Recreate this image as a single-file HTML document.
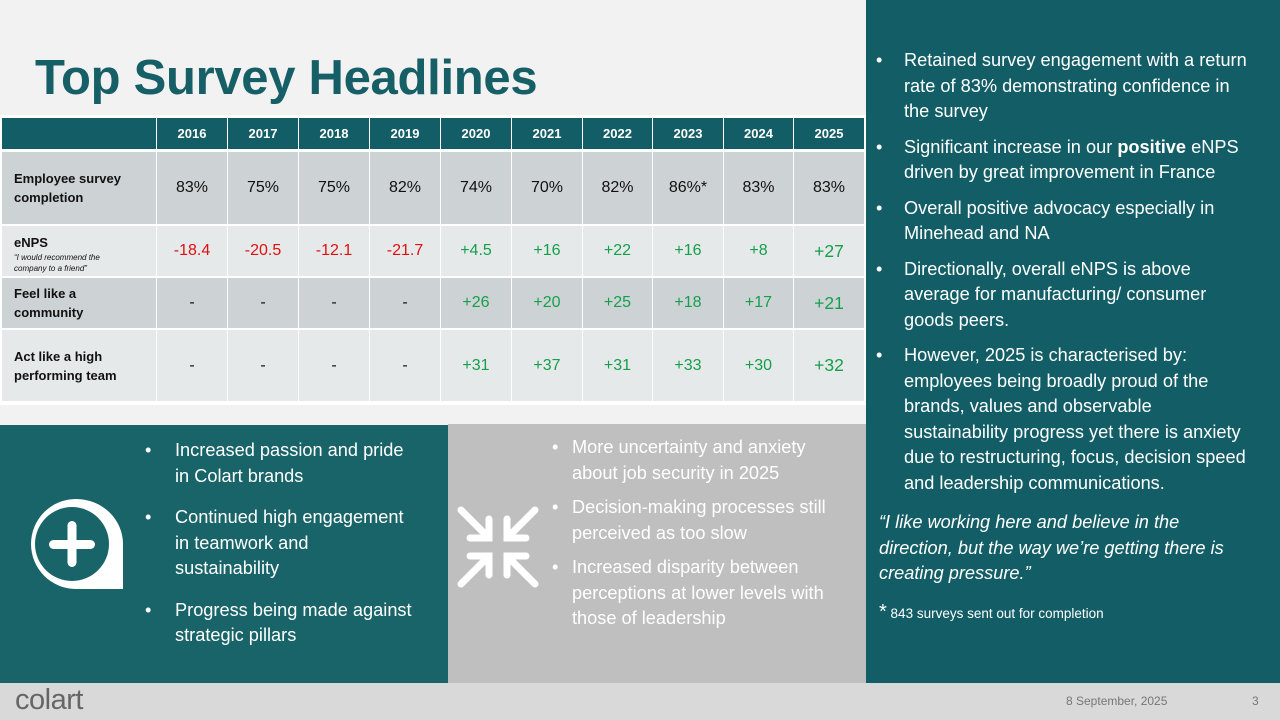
<!DOCTYPE html>
<html><head><meta charset="utf-8"><style>
*{margin:0;padding:0;box-sizing:border-box}
body{width:1280px;height:720px;position:relative;background:#f2f2f2;font-family:"Liberation Sans",Calibri,sans-serif;overflow:hidden}
.a{position:absolute}
h1{position:absolute;left:35px;top:50px;font-size:49px;color:#175f66;font-weight:bold;letter-spacing:-0.3px}
.c{position:absolute;display:flex;align-items:center;justify-content:center;font-size:16px;color:#111}
.h{background:#135e66;color:#fff;font-weight:bold;font-size:13px}
.d{background:#cdd2d5}.l{background:#e6e9ea}
.lab{justify-content:flex-start;padding-left:12px;font-weight:bold;font-size:13px;line-height:19px}
.r{color:#e01010}.g{color:#14a04a}
ul{list-style:none;white-space:nowrap}
li{position:relative;padding-left:30px}
li:before{content:"•";position:absolute;left:0}
</style></head><body>
<h1>Top Survey Headlines</h1>
<div class="a" style="left:0;top:115px;width:866px;height:290px;background:#fff"></div>
<div id="t"></div>
<div class="a" style="left:866px;top:0;width:414px;height:684px;background:#135e66"></div>
<div class="a" style="left:0;top:425px;width:448px;height:258px;background:#186468"></div>
<div class="a" style="left:448px;top:424px;width:418px;height:259px;background:#bfbfbf"></div>
<div class="a" style="left:0;top:683px;width:1280px;height:37px;background:#d9d9d9"></div>
<div class="a" style="left:15px;top:684px;font-size:29px;color:#666;letter-spacing:-0.5px">colart</div>
<div class="a" style="left:1066px;top:694px;font-size:12px;color:#777">8 September, 2025</div>
<div class="a" style="left:1252px;top:694px;font-size:12px;color:#777">3</div>

<svg class="a" style="left:26px;top:496px" width="100" height="94" viewBox="0 0 100 94">
<path d="M50 3 A45 45 0 0 0 50 93 L97 93 L97 48 A47 45 0 0 0 50 3 Z" fill="#fff"/>
<circle cx="46" cy="48" r="37" fill="#186468"/>
<rect x="23" y="44" width="46" height="9" rx="4.5" fill="#fff"/>
<rect x="41.5" y="25" width="9" height="46" rx="4.5" fill="#fff"/>
</svg>
<svg class="a" style="left:456px;top:505px" width="84" height="84" viewBox="0 0 84 84" stroke="#fff" stroke-width="7" stroke-linecap="round" fill="none">
<path d="M5 5 L32 32 M14 33 H33 V14"/>
<path d="M79 5 L52 32 M70 33 H51 V14"/>
<path d="M5 79 L32 52 M14 51 H33 V70"/>
<path d="M79 79 L52 52 M70 51 H51 V70"/>
</svg>

<ul class="a" style="left:145px;top:438px;color:#fff;font-size:18.2px;line-height:25.5px">
<li style="margin-bottom:16px">Increased passion and pride<br>in Colart brands</li>
<li style="margin-bottom:16px">Continued high engagement<br>in teamwork and<br>sustainability</li>
<li>Progress being made against<br>strategic pillars</li>
</ul>
<ul class="a" style="left:552px;top:435px;color:#fff;font-size:18.2px;line-height:25.5px">
<li style="padding-left:20px;margin-bottom:9px">More uncertainty and anxiety<br>about job security in 2025</li>
<li style="padding-left:20px;margin-bottom:9px">Decision-making processes still<br>perceived as too slow</li>
<li style="padding-left:20px">Increased disparity between<br>perceptions at lower levels with<br>those of leadership</li>
</ul>
<ul class="a" style="left:876px;top:48px;color:#fff;font-size:18.2px;line-height:25.5px">
<li style="padding-left:28px;margin-bottom:10px">Retained survey engagement with a return<br>rate of 83% demonstrating confidence in<br>the survey</li>
<li style="padding-left:28px;margin-bottom:10px">Significant increase in our <b>positive</b> eNPS<br>driven by great improvement in France</li>
<li style="padding-left:28px;margin-bottom:10px">Overall positive advocacy especially in<br>Minehead and NA</li>
<li style="padding-left:28px;margin-bottom:10px">Directionally, overall eNPS is above<br>average for manufacturing/ consumer<br>goods peers.</li>
<li style="padding-left:28px">However, 2025 is characterised by:<br>employees being broadly proud of the<br>brands, values and observable<br>sustainability progress yet there is anxiety<br>due to restructuring, focus, decision speed<br>and leadership communications.</li>
</ul>
<div class="a" style="left:879px;top:510px;white-space:nowrap;color:#fff;font-size:18.2px;line-height:25.5px;font-style:italic">“I like working here and believe in the<br>direction, but the way we’re getting there is<br>creating pressure.”</div>
<div class="a" style="left:879px;top:601px;color:#fff;font-size:13.5px"><span style="font-size:20px">*</span> 843 surveys sent out for completion</div>

<script>
var xs=[2,157,228,299,370,441,512,583,653,724,794,865];
var rows=[[118,149,'h'],[152,224,'d'],[226,276,'l'],[278,328,'d'],[330,401,'l']];
var data=[
['','2016','2017','2018','2019','2020','2021','2022','2023','2024','2025'],
['Employee survey completion','83%','75%','75%','82%','74%','70%','82%','86%*','83%','83%'],
['eNPS<br><i style="font-weight:normal;font-size:8px;line-height:11px;display:block">“I would recommend the<br>company to a friend”</i>','-18.4','-20.5','-12.1','-21.7','+4.5','+16','+22','+16','+8','+27'],
['Feel like a<br>community','-','-','-','-','+26','+20','+25','+18','+17','+21'],
['Act like a high<br>performing team','-','-','-','-','+31','+37','+31','+33','+30','+32']];
var h='';
for(var r=0;r<5;r++)for(var c=0;c<11;c++){
 var cls='c '+rows[r][2];
 if(c==0&&r>0)cls+=' lab';
 var v=data[r][c];
 if(r>0&&c>0){if(v[0]=='-'&&v.length>1)cls+=' r';else if(v[0]=='+')cls+=' g';}
 var st='left:'+xs[c]+'px;top:'+rows[r][0]+'px;width:'+(xs[c+1]-xs[c]-1)+'px;height:'+(rows[r][1]-rows[r][0])+'px;';
 if(r>0&&c==10&&v[0]=='+')st+='font-size:17.5px;';
 if(c==0&&r==2)st+='display:block;padding-top:7px;';
 h+='<div class="'+cls+'" style="'+st+'">'+v+'</div>';
}
document.getElementById('t').innerHTML=h;
</script>
</body></html>
